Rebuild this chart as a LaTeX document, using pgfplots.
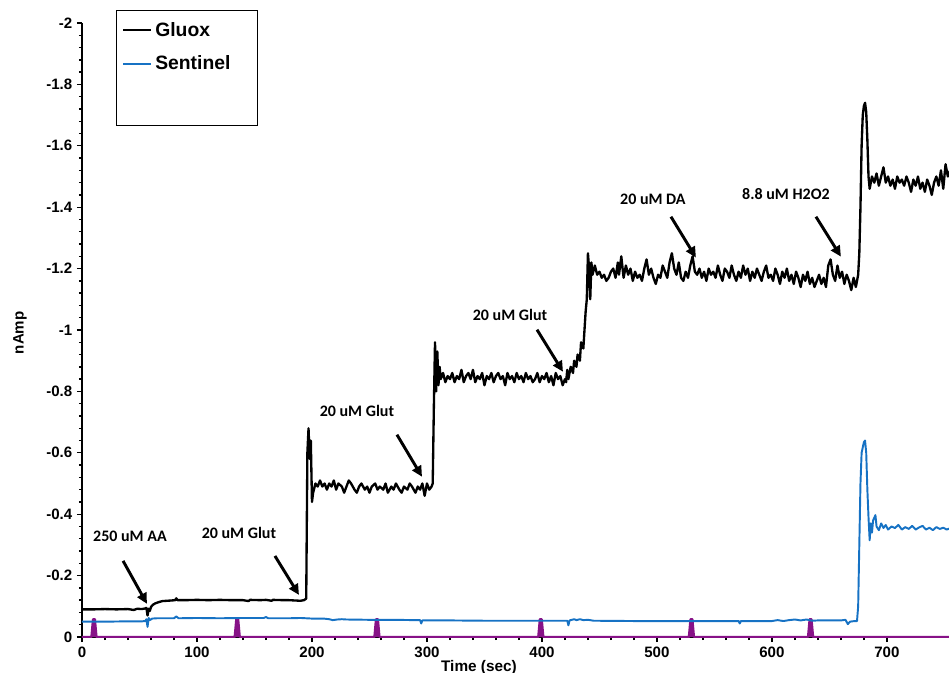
\documentclass[border=0pt]{standalone}
\usepackage{fontspec}
\setmainfont{Liberation Sans}
\newfontfamily\annfont{Carlito}
\usepackage{pgfplots}
\pgfplotsset{compat=1.18}
\usetikzlibrary{arrows.meta}
\definecolor{sent}{RGB}{22,114,196}
\definecolor{purp}{RGB}{135,18,135}

\pgfplotstableread{
x y
0 -0.090
10 -0.090
20 -0.091
30 -0.090
40 -0.091
45 -0.088
48 -0.092
52 -0.091
55 -0.093
56 -0.095
57 -0.070
58 -0.092
59 -0.085
60 -0.098
62 -0.106
64 -0.110
67 -0.114
70 -0.117
74 -0.118
78 -0.119
81 -0.120
82 -0.126
83 -0.120
90 -0.120
100 -0.121
110 -0.120
120 -0.121
130 -0.120
140 -0.120
145 -0.117
146 -0.121
155 -0.120
160 -0.121
165 -0.118
166 -0.121
175 -0.120
180 -0.120
185 -0.119
190 -0.118
193 -0.120
195 -0.125
196 -0.600
197 -0.680
198 -0.580
199 -0.640
200 -0.440
201 -0.470
203 -0.500
205 -0.490
207 -0.510
209 -0.490
211 -0.500
213 -0.480
215 -0.500
217 -0.490
219 -0.510
221 -0.480
223 -0.500
226 -0.490
228 -0.470
230 -0.490
232 -0.510
234 -0.500
237 -0.480
239 -0.470
241 -0.490
243 -0.500
246 -0.480
248 -0.490
250 -0.470
252 -0.490
255 -0.500
257 -0.480
259 -0.490
262 -0.480
264 -0.500
266 -0.470
269 -0.490
271 -0.480
273 -0.500
276 -0.480
278 -0.470
280 -0.490
283 -0.480
285 -0.500
287 -0.490
290 -0.470
292 -0.490
294 -0.480
296 -0.500
298 -0.460
300 -0.500
302 -0.480
304 -0.490
305 -0.500
306 -0.750
307 -0.960
308 -0.800
309 -0.930
310 -0.820
311 -0.880
312 -0.840
314 -0.860
316 -0.830
318 -0.850
320 -0.840
322 -0.860
324 -0.830
326 -0.850
328 -0.840
330 -0.870
332 -0.830
334 -0.850
336 -0.860
338 -0.840
340 -0.870
342 -0.830
344 -0.850
346 -0.840
348 -0.860
350 -0.820
352 -0.850
354 -0.840
356 -0.860
358 -0.830
360 -0.850
362 -0.860
364 -0.840
366 -0.850
368 -0.820
370 -0.860
372 -0.840
374 -0.850
376 -0.830
378 -0.860
380 -0.840
382 -0.850
384 -0.830
386 -0.860
388 -0.840
390 -0.850
392 -0.830
394 -0.840
396 -0.860
398 -0.830
400 -0.850
402 -0.840
404 -0.860
406 -0.830
408 -0.850
410 -0.820
412 -0.860
414 -0.840
416 -0.850
418 -0.820
420 -0.840
421 -0.830
422 -0.870
423 -0.840
425 -0.880
427 -0.860
428 -0.900
430 -0.880
431 -0.920
433 -0.900
434 -0.960
436 -0.940
437 -1.000
438 -1.060
439 -1.100
440 -1.250
441 -1.200
442 -1.100
443 -1.220
444 -1.180
446 -1.210
448 -1.180
450 -1.190
452 -1.170
454 -1.180
456 -1.160
458 -1.170
460 -1.190
462 -1.200
464 -1.170
466 -1.220
467 -1.180
469 -1.240
471 -1.170
473 -1.210
475 -1.180
477 -1.200
479 -1.160
481 -1.190
483 -1.170
485 -1.180
487 -1.160
489 -1.200
491 -1.230
493 -1.180
495 -1.200
497 -1.170
499 -1.150
501 -1.180
503 -1.170
505 -1.210
507 -1.190
509 -1.170
511 -1.220
513 -1.250
515 -1.200
517 -1.180
519 -1.220
521 -1.170
523 -1.160
525 -1.190
527 -1.170
529 -1.210
531 -1.240
533 -1.190
535 -1.180
537 -1.200
539 -1.170
541 -1.190
543 -1.160
545 -1.200
547 -1.180
549 -1.190
551 -1.170
553 -1.210
555 -1.180
557 -1.160
559 -1.200
561 -1.190
563 -1.170
565 -1.210
567 -1.180
569 -1.160
571 -1.190
573 -1.170
575 -1.210
577 -1.180
579 -1.200
581 -1.160
583 -1.190
585 -1.170
587 -1.200
589 -1.180
591 -1.160
593 -1.190
595 -1.210
597 -1.170
599 -1.180
601 -1.160
603 -1.200
605 -1.180
607 -1.150
609 -1.190
611 -1.170
613 -1.200
615 -1.160
617 -1.180
619 -1.150
621 -1.190
623 -1.170
625 -1.140
627 -1.180
629 -1.160
631 -1.190
633 -1.150
635 -1.170
637 -1.140
639 -1.160
641 -1.180
643 -1.150
645 -1.170
647 -1.140
649 -1.210
651 -1.230
653 -1.180
655 -1.160
657 -1.210
659 -1.170
661 -1.190
663 -1.150
665 -1.180
667 -1.160
669 -1.130
671 -1.170
673 -1.140
675 -1.180
676 -1.250
677 -1.400
678 -1.600
679 -1.700
680 -1.730
681 -1.740
682 -1.710
683 -1.620
684 -1.500
685 -1.460
687 -1.500
689 -1.480
691 -1.510
693 -1.470
695 -1.500
697 -1.530
699 -1.480
701 -1.500
703 -1.470
705 -1.490
707 -1.460
709 -1.500
711 -1.480
713 -1.490
715 -1.470
717 -1.500
719 -1.480
721 -1.450
723 -1.490
725 -1.470
727 -1.500
729 -1.460
731 -1.480
733 -1.450
735 -1.490
737 -1.470
739 -1.440
741 -1.480
743 -1.500
745 -1.470
747 -1.520
749 -1.460
751 -1.540
753 -1.500
755 -1.520
}\gluox

\pgfplotstableread{
x y
0 -0.050
20 -0.050
40 -0.051
52 -0.051
55 -0.052
56 -0.058
57 -0.033
58 -0.062
59 -0.055
61 -0.060
65 -0.061
70 -0.061
80 -0.061
82 -0.067
84 -0.061
100 -0.062
120 -0.061
140 -0.062
158 -0.062
160 -0.065
162 -0.061
180 -0.061
190 -0.062
200 -0.060
210 -0.060
215 -0.058
218 -0.055
222 -0.057
226 -0.058
230 -0.057
250 -0.056
270 -0.056
290 -0.055
294 -0.055
295 -0.044
296 -0.054
320 -0.054
350 -0.053
380 -0.053
400 -0.053
422 -0.053
423 -0.038
424 -0.054
428 -0.058
430 -0.055
433 -0.058
436 -0.055
440 -0.056
445 -0.053
480 -0.052
520 -0.052
560 -0.052
571 -0.052
572 -0.044
573 -0.052
600 -0.052
605 -0.055
610 -0.052
615 -0.055
620 -0.057
625 -0.054
630 -0.057
635 -0.053
640 -0.054
660 -0.054
664 -0.056
666 -0.042
668 -0.050
672 -0.052
674 -0.052
675 -0.100
676 -0.300
677 -0.500
678 -0.600
680 -0.635
681 -0.640
682 -0.600
683 -0.480
684 -0.390
685 -0.315
686 -0.370
687 -0.340
688 -0.380
690 -0.397
691 -0.360
693 -0.348
695 -0.370
697 -0.355
699 -0.365
701 -0.350
704 -0.360
707 -0.355
710 -0.365
713 -0.350
716 -0.358
719 -0.352
722 -0.362
725 -0.350
728 -0.357
731 -0.362
734 -0.350
737 -0.356
740 -0.348
743 -0.358
746 -0.352
749 -0.356
752 -0.350
755 -0.354
}\sentinel

\pgfplotstableread{
x y
0 0
8.2 0
9.6 -0.058
11.2 -0.058
12.6 0
132.8 0
134.2 -0.058
135.8 -0.058
137.2 0
254.3 0
255.7 -0.058
257.3 -0.058
258.7 0
396.8 0
398.2 -0.058
399.8 -0.058
401.2 0
527.8 0
529.2 -0.058
530.8 -0.058
532.2 0
631.4 0
632.8 -0.058
634.4 -0.058
635.8 0
755 0
}\marks

\begin{document}
\begin{tikzpicture}
\begin{axis}[
  scale only axis,
  width=650.25pt, height=460.5pt,
  xmin=0, xmax=754, ymin=-2, ymax=0,
  y dir=reverse,
  axis x line=bottom, axis y line=left,
  axis line style={-, line width=1.3pt},
  clip mode=individual,
  xtick={0,100,200,300,400,500,600,700},
  xticklabels={0,100,200,300,400,500,600,700},
  ytick={-2,-1.8,-1.6,-1.4,-1.2,-1,-0.8,-0.6,-0.4,-0.2,0},
  yticklabels={-2,-1.8,-1.6,-1.4,-1.2,-1,-0.8,-0.6,-0.4,-0.2,0},
  minor x tick num=4, minor y tick num=4,
  tick align=outside,
  major tick length=3.75pt, minor tick length=2.25pt,
  every tick/.style={black, line width=1pt},
  tick label style={font=\bfseries\fontsize{11.3}{13}\selectfont},
  xlabel={Time (sec)}, ylabel={nAmp},
  every axis x label/.style={at={(axis cs:345.2,0.098)}, anchor=center, font=\bfseries\fontsize{11.5}{13}\selectfont},
  every axis y label/.style={at={(axis cs:-53.9,-0.991)}, rotate=90, anchor=center, font=\bfseries\fontsize{11.3}{13}\selectfont},
  legend style={at={(axis cs:34.8,-2.012)}, anchor=north west, draw=none, fill=none, inner sep=0pt,
    font=\bfseries\fontsize{14.5}{16}\selectfont, row sep=9pt, cells={anchor=west},
    /tikz/every even column/.append style={column sep=3pt}},
  legend image code/.code={\draw[#1] (0pt,0pt) -- (21pt,0pt);},
  every axis plot/.append style={line join=round},
]
\addplot[purp, line width=1.7pt, fill=purp, line join=bevel, forget plot] table {\marks};
\addplot[black, line width=1.75pt] table {\gluox};
\addlegendentry{Gluox}
\addplot[sent, line width=1.45pt] table {\sentinel};
\addlegendentry{Sentinel}

\draw[line width=0.9pt] (axis cs:30.2,-2.042) rectangle (axis cs:152.8,-1.667);

\tikzset{ann/.style={font=\annfont\bfseries\fontsize{12}{14}\selectfont},
         arr/.style={line width=2.2pt, -{Triangle[length=8pt,width=7.5pt]}}}
\node[ann] at (axis cs:41.7,-0.329) {250 uM AA};
\draw[arr] (axis cs:35.7,-0.248) -- (axis cs:56.5,-0.108);
\node[ann] at (axis cs:136.5,-0.339) {20 uM Glut};
\draw[arr] (axis cs:167.8,-0.264) -- (axis cs:188.7,-0.137);
\node[ann] at (axis cs:239.1,-0.737) {20 uM Glut};
\draw[arr] (axis cs:273.9,-0.659) -- (axis cs:295.7,-0.522);
\node[ann] at (axis cs:372.2,-1.050) {20 uM Glut};
\draw[arr] (axis cs:395.7,-1.001) -- (axis cs:418.3,-0.864);
\node[ann] at (axis cs:496.5,-1.425) {20 uM DA};
\draw[arr] (axis cs:512.2,-1.369) -- (axis cs:533.9,-1.236);
\node[ann] at (axis cs:612.2,-1.444) {8.8 uM H2O2};
\draw[arr] (axis cs:638.3,-1.369) -- (axis cs:660,-1.239);

\coordinate (O) at (axis cs:0,0);
\coordinate (T) at (axis cs:754,-2);
\end{axis}
\pgfresetboundingbox
\path ([xshift=-61.5pt,yshift=-27pt]O) rectangle ([yshift=17.25pt]T);
\end{tikzpicture}
\end{document}
